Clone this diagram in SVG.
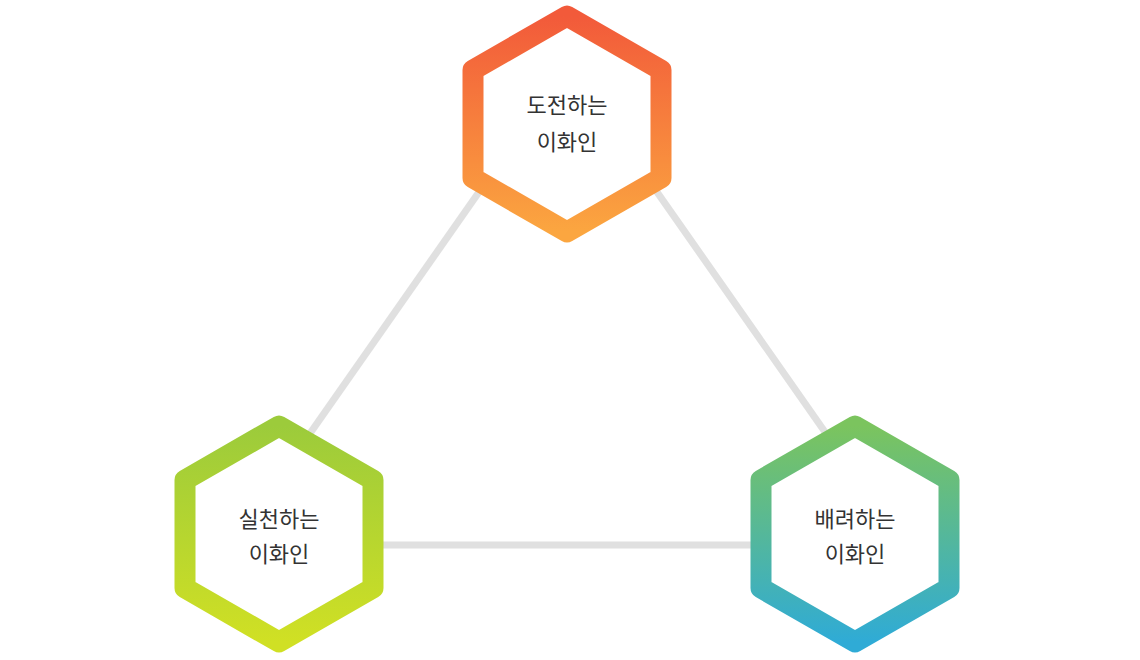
<svg xmlns="http://www.w3.org/2000/svg" width="1140" height="660" viewBox="0 0 1140 660">
<style>
.hex{fill:#fff;stroke-width:21;stroke-linejoin:round}
.lbl{font-family:"Noto Sans CJK KR","Noto Sans",sans-serif;font-size:22px;fill:#333;text-anchor:middle}
.con{stroke:#e0e0e0;stroke-width:7;fill:none}
</style>
<defs>
<linearGradient id="gTop" x1="0" y1="0" x2="0" y2="1"><stop offset="0" stop-color="#f25a3a"/><stop offset="1" stop-color="#fba640"/></linearGradient>
<linearGradient id="gLeft" x1="0" y1="0" x2="0" y2="1"><stop offset="0" stop-color="#9ccb3b"/><stop offset="1" stop-color="#d0e024"/></linearGradient>
<linearGradient id="gRight" x1="0" y1="0" x2="0" y2="1"><stop offset="0" stop-color="#7bc45e"/><stop offset="1" stop-color="#2fabd6"/></linearGradient>
</defs>
<g id="connectors">
<line class="con" x1="290" y1="462" x2="500" y2="162"/>
<line class="con" x1="636" y1="162" x2="846" y2="462"/>
<line class="con" x1="360" y1="545" x2="775" y2="545"/>
</g>
<g id="node-top">
<polygon class="hex" stroke="url(#gTop)" points="567,16 661,70 661,178 567,232 473,178 473,70"/>
<text class="lbl" x="567" y="113">도전하는</text>
<text class="lbl" x="567" y="150">이화인</text>
</g>
<g id="node-left">
<polygon class="hex" stroke="url(#gLeft)" points="279,426 373,480 373,588 279,642 185,588 185,480"/>
<text class="lbl" x="279" y="527">실천하는</text>
<text class="lbl" x="279" y="562">이화인</text>
</g>
<g id="node-right">
<polygon class="hex" stroke="url(#gRight)" points="855,426 949,480 949,588 855,642 761,588 761,480"/>
<text class="lbl" x="855" y="527">배려하는</text>
<text class="lbl" x="855" y="562">이화인</text>
</g>
</svg>
